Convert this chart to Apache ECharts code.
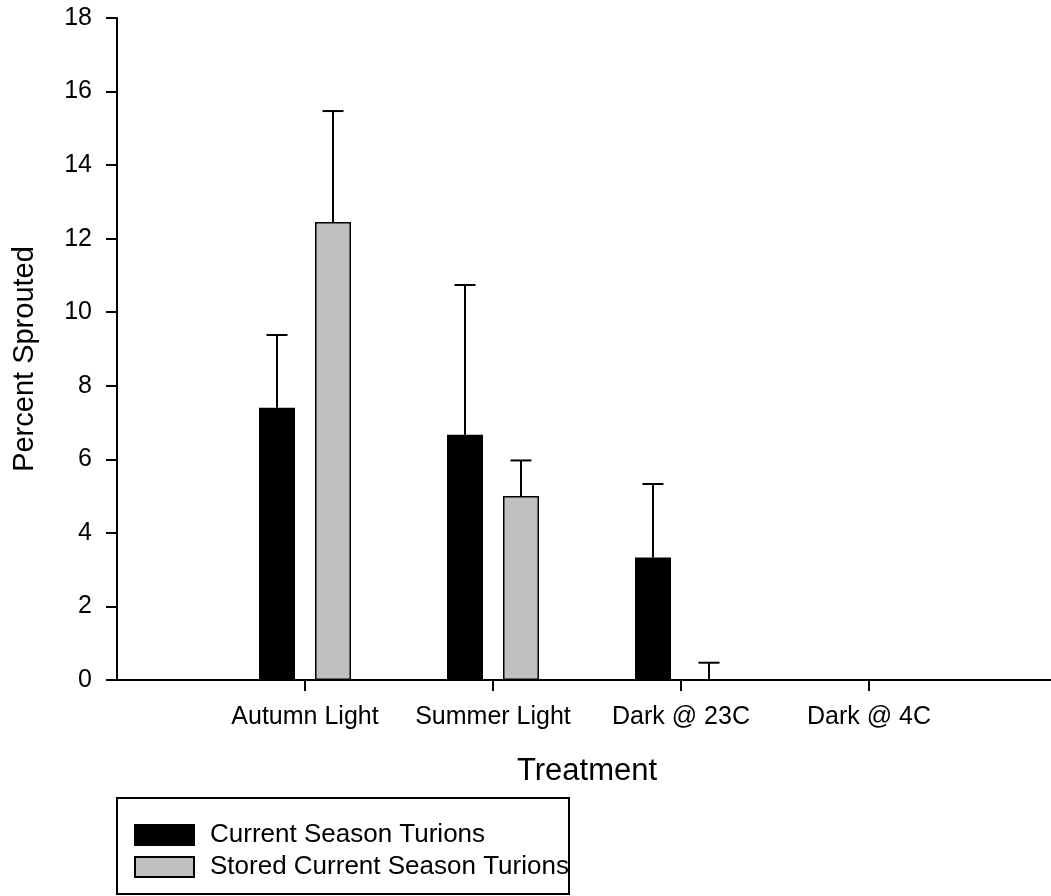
<!DOCTYPE html>
<html>
<head>
<meta charset="utf-8">
<style>
  html, body { margin: 0; padding: 0; background: #fff; }
  #chart { width: 1051px; height: 896px; }
</style>
<script src="https://cdn.jsdelivr.net/npm/echarts@6/dist/echarts.min.js"></script>
</head>
<body>
<div id="chart"></div>
<script>
// ---- data ----
const categories = ['', 'Autumn Light', 'Summer Light', 'Dark @ 23C', 'Dark @ 4C', ''];
const seriesNames = ['Current Season Turions', 'Stored Current Season Turions'];
const currentMean  = ['-', 7.40, 6.67, 3.33, 0, '-'];
const currentUpper = ['-', 9.38, 10.74, 5.33, 0, '-'];
const storedMean   = ['-', 12.45, 5.00, 0, 0, '-'];
const storedUpper  = ['-', 15.47, 5.97, 0.47, 0, '-'];
const yTicks = { min: 0, max: 18, interval: 2 };

// ---- styling constants ----
const FONT = "'Liberation Sans', Arial, sans-serif";
const BAR_W = 36;
const BAR_GAP = 20;
const OFFSET = (BAR_W + BAR_GAP) / 2;
const CAP = 21;

function errData(mean, upper) {
  const out = [];
  categories.forEach((c, i) => {
    if (typeof mean[i] === 'number' && upper[i] > mean[i]) out.push([i, mean[i], upper[i]]);
  });
  return out;
}

function errRender(offset) {
  return function (params, api) {
    const base = api.coord([api.value(0), api.value(1)]);
    const top = api.coord([api.value(0), api.value(2)]);
    const x = base[0] + offset;
    const style = { stroke: '#000', lineWidth: 2 };
    return {
      type: 'group',
      children: [
        { type: 'line', shape: { x1: x, y1: base[1], x2: x, y2: top[1] }, style: style },
        { type: 'line', shape: { x1: x - CAP / 2, y1: top[1], x2: x + CAP / 2, y2: top[1] }, style: style }
      ]
    };
  };
}

const chart = echarts.init(document.getElementById('chart'), null, { renderer: 'canvas' });
chart.setOption({
  animation: false,
  backgroundColor: '#fff',
  textStyle: { fontFamily: FONT, color: '#000' },
  grid: { left: 117, top: 18, width: 940, height: 662, containLabel: false, outerBoundsMode: 'none' },
  xAxis: {
    type: 'category',
    data: categories,
    boundaryGap: false,
    name: 'Treatment',
    nameLocation: 'middle',
    nameGap: 76,
    nameTextStyle: { fontFamily: FONT, fontSize: 31, color: '#000' },
    axisLine: { lineStyle: { color: '#000', width: 2 } },
    axisTick: {
      show: true, length: 11, lineStyle: { color: '#000', width: 2 },
      interval: function (idx, val) { return val !== ''; }
    },
    axisLabel: { fontFamily: FONT, fontSize: 25, color: '#000', margin: 25, interval: 0 },
    splitLine: { show: false }
  },
  yAxis: {
    type: 'value',
    min: yTicks.min, max: yTicks.max, interval: yTicks.interval,
    name: 'Percent Sprouted',
    nameLocation: 'middle',
    nameGap: 78,
    nameTextStyle: { fontFamily: FONT, fontSize: 29, color: '#000', padding: [0, 20, 0, 0] },
    axisLine: { show: true, lineStyle: { color: '#000', width: 2 } },
    axisTick: { show: true, length: 11, lineStyle: { color: '#000', width: 2 } },
    axisLabel: { fontFamily: FONT, fontSize: 25, color: '#000', margin: 25 },
    splitLine: { show: false }
  },
  legend: {
    orient: 'vertical',
    left: 134, top: 822,
    padding: 0,
    itemWidth: 59, itemHeight: 20, itemGap: 6,
    icon: 'rect',
    selectedMode: false,
    textStyle: { fontFamily: FONT, fontSize: 26, color: '#000', lineHeight: 20, padding: [0, 0, 0, 11] },
    data: seriesNames
  },
  graphic: [{
    type: 'rect',
    shape: { x: 117, y: 798, width: 452, height: 96 },
    style: { fill: 'none', stroke: '#000', lineWidth: 2 },
    silent: true
  }],
  series: [
    {
      name: seriesNames[0], type: 'bar', data: currentMean,
      barWidth: BAR_W, barGap: (BAR_GAP / BAR_W * 100) + '%',
      itemStyle: { color: '#000', borderColor: '#000', borderWidth: 1.5 }
    },
    {
      name: seriesNames[1], type: 'bar', data: storedMean,
      barWidth: BAR_W,
      itemStyle: { color: '#c0c0c0', borderColor: '#000', borderWidth: 1.5 }
    },
    {
      type: 'custom', name: 'errCurrent', data: errData(currentMean, currentUpper),
      renderItem: errRender(-OFFSET), z: 5, silent: true
    },
    {
      type: 'custom', name: 'errStored', data: errData(storedMean, storedUpper),
      renderItem: errRender(OFFSET), z: 5, silent: true
    }
  ]
});
</script>
</body>
</html>
